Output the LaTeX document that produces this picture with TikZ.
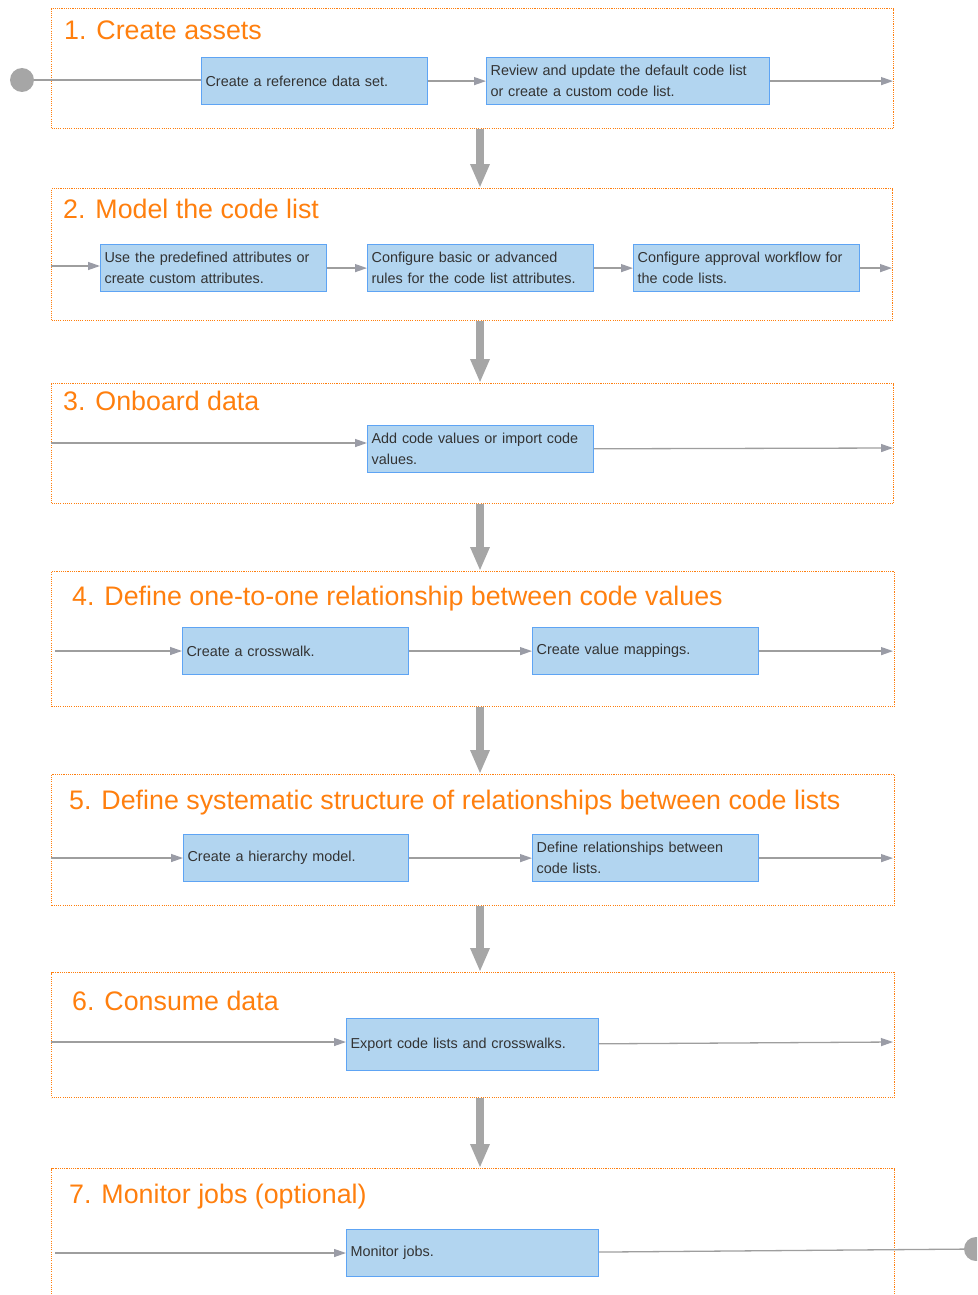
\documentclass[tikz,border=0pt]{standalone}
\usepackage{fontspec}
\setmainfont{Liberation Sans}
\usetikzlibrary{arrows.meta,calc}
\definecolor{orng}{HTML}{FF7F0E}
\definecolor{boxfill}{HTML}{B2D5F0}
\definecolor{boxline}{HTML}{5EA4F4}
\definecolor{txt}{HTML}{333333}
\definecolor{lin}{HTML}{9E9E9E}
\definecolor{tipc}{HTML}{9A9CA6}
\definecolor{bigarr}{HTML}{A6A6A6}
\begin{document}
\begin{tikzpicture}[x=1pt,y=-1pt,
  stage/.style={draw=orng, line width=1.1pt, dash pattern=on 1.1pt off 1.1pt, anchor=north west, inner sep=0pt, minimum width=842pt},
  title/.style={anchor=base west, inner sep=0pt, text=orng, font=\fontsize{26.8}{32}\selectfont},
  stepbox/.style={draw=boxline, fill=boxfill, line width=1.2pt, anchor=north west, minimum height=47pt, inner xsep=4pt, inner ysep=2pt, align=left, text=txt, font=\fontsize{14.4}{21}\selectfont},
  conn/.style={draw=lin, line width=1.3pt, -{Triangle[length=12pt,width=8pt,color=tipc]}},
  plainconn/.style={draw=lin, line width=1.3pt},
  bigarrow/.style={draw=bigarr, line width=8.5pt, -{Triangle[length=24pt,width=18pt]}},
  endpt/.style={circle, fill=bigarr, minimum size=24pt, inner sep=0pt}
]
\useasboundingbox (0,0) rectangle (977,1295);
\clip (0,0) rectangle (977,1295);

% stages
\node[stage, minimum height=120pt] (s1) at (51,8) {};
\node[stage, minimum height=132pt, minimum width=841pt] (s2) at (51,188) {};
\node[stage, minimum height=120pt] (s3) at (51,383) {};
\node[stage, minimum height=135pt, minimum width=843pt] (s4) at (51,571) {};
\node[stage, minimum height=131pt, minimum width=843pt] (s5) at (51,774) {};
\node[stage, minimum height=125pt, minimum width=843pt] (s6) at (51,972) {};
\node[stage, minimum height=200pt, minimum width=843pt] (s7) at (51,1168) {};

% titles
\node[title] (t1) at (64,40) {1. Create assets};
\node[title] (t2) at (63,218) {2. Model the code list};
\node[title] (t3) at (63,410) {3. Onboard data};
\node[title] (t4) at (72,605) {4. Define one-to-one relationship between code values};
\node[title] (t5) at (69,809) {5. Define systematic structure of relationships between code lists};
\node[title] (t6) at (72,1010) {6. Consume data};
\node[title] (t7) at (69,1203) {7. Monitor jobs (optional)};

% step boxes
\node[stepbox, text width=218pt] (b11) at (201,57) {Create a reference data set.};
\node[stepbox, text width=275pt] (b12) at (486,57) {Review and update the default code list\\or create a custom code list.};
\node[stepbox, text width=218pt] (b21) at (100,244) {Use the predefined attributes or\\create custom attributes.};
\node[stepbox, text width=218pt] (b22) at (367,244) {Configure basic or advanced\\rules for the code list attributes.};
\node[stepbox, text width=218pt] (b23) at (633,244) {Configure approval workflow for\\the code lists.};
\node[stepbox, text width=218pt] (b31) at (367,425) {Add code values or import code\\values.};
\node[stepbox, text width=218pt] (b41) at (182,627) {Create a crosswalk.};
\node[stepbox, text width=218pt] (b42) at (532,627) {Create value mappings.};
\node[stepbox, text width=217pt] (b51) at (183,834) {Create a hierarchy model.};
\node[stepbox, text width=218pt] (b52) at (532,834) {Define relationships between\\code lists.};
\node[stepbox, text width=244pt, minimum height=52pt] (b61) at (346,1018) {Export code lists and crosswalks.};
\node[stepbox, text width=244pt] (b71) at (346,1229) {Monitor jobs.};

% end points and free ends
\node[endpt] (start) at (22,80) {};
\node[endpt] (finish) at (976,1249) {};
\coordinate (o1) at (893,80);
\coordinate (i2) at (51,266);
\coordinate (o2) at (892,268);
\coordinate (i3) at (51,443);
\coordinate (o3) at (893,448);
\coordinate (i4) at (55,651);
\coordinate (o4) at (893,652);
\coordinate (i5) at (51,858);
\coordinate (o5) at (893,858);
\coordinate (i6) at (51,1042);
\coordinate (o6) at (893,1042);
\coordinate (i7) at (55,1253);
\coordinate (ax) at (480,0);

% connectors
\draw[plainconn] (start) -- (start -| b11.west);
\draw[conn] (b11) -- (b12);
\draw[conn] (b12) -- (b12 -| o1);
\draw[conn] (i2) -- (i2 -| b21.west);
\draw[conn] (b21) -- (b22);
\draw[conn] (b22) -- (b23);
\draw[conn] (b23) -- (b23 -| o2);
\draw[conn] (i3) -- (i3 -| b31.west);
\draw[conn] (b31) -- (o3);
\draw[conn] (i4) -- (i4 -| b41.west);
\draw[conn] (b41) -- (b42);
\draw[conn] (b42) -- (b42 -| o4);
\draw[conn] (i5) -- (i5 -| b51.west);
\draw[conn] (b51) -- (b52);
\draw[conn] (b52) -- (b52 -| o5);
\draw[conn] (i6) -- (i6 -| b61.west);
\draw[conn] (b61) -- (o6);
\draw[conn] (i7) -- (i7 -| b71.west);
\draw[plainconn] (b71) -- (finish);

% stage-to-stage arrows
\draw[bigarrow] (s1.south -| ax) -- (s2.north -| ax);
\draw[bigarrow] (s2.south -| ax) -- (s3.north -| ax);
\draw[bigarrow] (s3.south -| ax) -- (s4.north -| ax);
\draw[bigarrow] (s4.south -| ax) -- (s5.north -| ax);
\draw[bigarrow] (s5.south -| ax) -- (s6.north -| ax);
\draw[bigarrow] (s6.south -| ax) -- (s7.north -| ax);
\end{tikzpicture}
\end{document}
